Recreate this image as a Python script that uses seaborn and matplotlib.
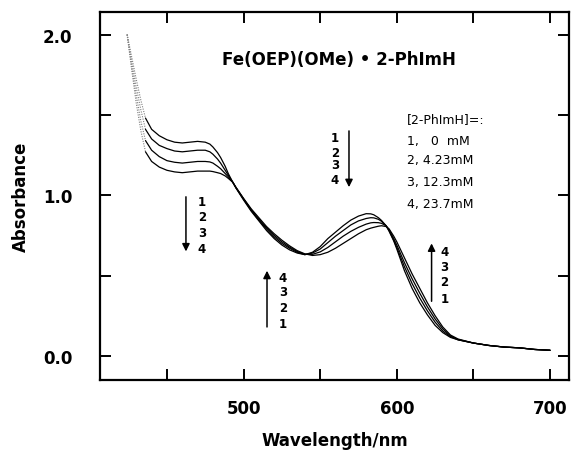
import numpy as np
import pandas as pd
import matplotlib
matplotlib.use("Agg")
import matplotlib.pyplot as plt
from matplotlib.ticker import MultipleLocator
import seaborn as sns

# wavelength grid (nm) and absorbance for the four 2-PhImH concentrations
wavelength = [424, 427, 430, 433, 436, 440, 445, 450, 455, 460, 465, 470, 475, 478,
              480, 483, 485, 488, 490, 493, 495, 500, 505, 510, 515, 520, 525, 530,
              535, 540, 545, 550, 555, 560, 565, 570, 575, 580, 583, 585, 588, 590,
              593, 595, 598, 600, 605, 610, 615, 620, 625, 630, 635, 640, 650, 660,
              670, 680, 690, 700]

abs_0mM = [2.00, 1.86, 1.72, 1.59, 1.48, 1.41, 1.37, 1.345, 1.33, 1.325, 1.33, 1.335, 1.33, 1.318,
           1.30, 1.265, 1.235, 1.18, 1.135, 1.08, 1.045, 0.97, 0.90, 0.84, 0.78, 0.73, 0.69, 0.66,
           0.64, 0.63, 0.645, 0.68, 0.73, 0.77, 0.81, 0.845, 0.87, 0.885, 0.884, 0.878, 0.86, 0.843,
           0.81, 0.775, 0.715, 0.665, 0.53, 0.42, 0.33, 0.255, 0.19, 0.145, 0.115, 0.10, 0.08, 0.065,
           0.055, 0.05, 0.04, 0.035]

abs_4mM = [2.00, 1.83, 1.67, 1.53, 1.41, 1.35, 1.31, 1.29, 1.275, 1.27, 1.275, 1.28, 1.28, 1.27,
           1.255, 1.225, 1.20, 1.155, 1.125, 1.08, 1.047, 0.975, 0.905, 0.845, 0.79, 0.74, 0.70, 0.67,
           0.645, 0.63, 0.64, 0.665, 0.705, 0.745, 0.78, 0.815, 0.84, 0.855, 0.86, 0.859, 0.85, 0.838,
           0.81, 0.78, 0.72, 0.675, 0.555, 0.45, 0.36, 0.28, 0.21, 0.155, 0.12, 0.10, 0.08, 0.065,
           0.055, 0.05, 0.04, 0.035]

abs_12mM = [2.00, 1.80, 1.62, 1.46, 1.34, 1.28, 1.24, 1.215, 1.205, 1.20, 1.205, 1.21, 1.21, 1.207,
            1.20, 1.18, 1.165, 1.135, 1.115, 1.08, 1.048, 0.978, 0.91, 0.852, 0.797, 0.75, 0.71, 0.677,
            0.65, 0.632, 0.632, 0.647, 0.675, 0.71, 0.745, 0.775, 0.80, 0.82, 0.828, 0.83, 0.829, 0.825,
            0.81, 0.785, 0.73, 0.69, 0.58, 0.48, 0.39, 0.305, 0.23, 0.168, 0.125, 0.102, 0.08, 0.065,
            0.055, 0.05, 0.04, 0.035]

abs_24mM = [2.00, 1.78, 1.57, 1.40, 1.27, 1.21, 1.175, 1.155, 1.145, 1.14, 1.145, 1.15, 1.15, 1.15,
            1.147, 1.14, 1.135, 1.12, 1.105, 1.08, 1.05, 0.98, 0.915, 0.86, 0.805, 0.76, 0.72, 0.685,
            0.655, 0.635, 0.625, 0.63, 0.645, 0.67, 0.70, 0.73, 0.76, 0.785, 0.795, 0.80, 0.807, 0.81,
            0.805, 0.79, 0.745, 0.71, 0.61, 0.51, 0.42, 0.33, 0.25, 0.18, 0.13, 0.105, 0.08, 0.065,
            0.055, 0.05, 0.04, 0.035]

curve_ids = ["1", "2", "3", "4"]
legend_lines = ["[2-PhImH]=:", "1,   0  mM", "2, 4.23mM", "3, 12.3mM", "4, 23.7mM"]
title_text = "Fe(OEP)(OMe) \u2022 2-PhImH"

df = pd.concat([
    pd.DataFrame({"wl": wavelength, "A": a, "curve": c})
    for a, c in zip([abs_0mM, abs_4mM, abs_12mM, abs_24mM], curve_ids)
])

sns.set_style("ticks")
plt.rcParams["font.family"] = ["DejaVu Sans"]
plt.rcParams["text.color"] = "black"
plt.rcParams["axes.labelcolor"] = "black"
plt.rcParams["xtick.color"] = "black"
plt.rcParams["ytick.color"] = "black"
plt.rcParams["axes.edgecolor"] = "black"

fig = plt.figure(figsize=(5.72, 4.52), dpi=100)
ax = fig.add_axes([0.1748, 0.1571, 0.82, 0.8141])

# faint start of the traces (as in the scan) and the solid main part
early = df[df["wl"] <= 436]
main = df[df["wl"] >= 436]
sns.lineplot(data=early, x="wl", y="A", hue="curve", palette=["0.5"] * 4,
             estimator=None, legend=False, ax=ax, lw=0.8, linestyle=(0, (1, 1.2)))
sns.lineplot(data=main, x="wl", y="A", hue="curve", palette=["black"] * 4,
             estimator=None, legend=False, ax=ax, lw=0.9)

ax.set_xlim(406.3, 712.4)
ax.set_ylim(-0.15, 2.14)
ax.xaxis.set_minor_locator(MultipleLocator(50))
ax.yaxis.set_minor_locator(MultipleLocator(0.5))
ax.set_xticks([500, 600, 700])
ax.set_xticklabels(["500", "600", "700"])
ax.set_yticks([0.0, 1.0, 2.0])
ax.set_yticklabels(["0.0", "1.0", "2.0"])

for side in ["top", "right", "bottom", "left"]:
    ax.spines[side].set_visible(True)
    ax.spines[side].set_linewidth(1.6)
ax.tick_params(which="both", direction="in", top=True, right=True,
               length=8, width=1.4, color="black")
ax.tick_params(axis="x", which="major", pad=14, labelsize=12)
ax.tick_params(axis="y", which="major", pad=20, labelsize=12)
for lab in ax.get_xticklabels() + ax.get_yticklabels():
    lab.set_fontweight("bold")

ax.set_xlabel("Wavelength/nm", fontsize=12, fontweight="bold", labelpad=10)
ax.set_ylabel("Absorbance", fontsize=12, fontweight="bold", labelpad=9)

ax.text(485.9, 1.85, title_text, fontsize=12, fontweight="bold", ha="left", va="center")

legend_y = [1.48, 1.34, 1.22, 1.085, 0.95]
for txt, yy in zip(legend_lines, legend_y):
    ax.text(606.7, yy, txt, fontsize=9, ha="left", va="center")

# arrows showing the direction of change
arrows = [
    (462.4, 0.99, 0.65, 472.9, ["1", "2", "3", "4"], [0.96, 0.865, 0.77, 0.67]),
    (515.3, 0.18, 0.53, 525.7, ["4", "3", "2", "1"], [0.49, 0.40, 0.30, 0.20]),
    (568.8, 1.40, 1.05, 559.7, ["1", "2", "3", "4"], [1.36, 1.265, 1.19, 1.10]),
    (622.7, 0.34, 0.70, 631.0, ["4", "3", "2", "1"], [0.65, 0.555, 0.465, 0.36]),
]
for x0, y0, y1, tx, labs, ty in arrows:
    ax.annotate("", xy=(x0, y1), xytext=(x0, y0),
                arrowprops=dict(arrowstyle="-|>", color="black", lw=1.1,
                                mutation_scale=11, shrinkA=0, shrinkB=0))
    for lab, yy in zip(labs, ty):
        ax.text(tx, yy, lab, fontsize=8.5, fontweight="bold", ha="center", va="center")

fig.savefig("out.png", dpi=100)
